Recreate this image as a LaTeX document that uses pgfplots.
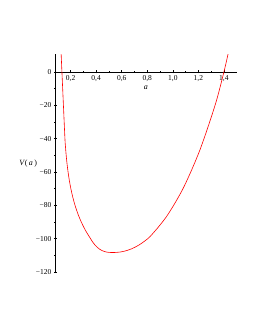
\documentclass[border=0pt]{standalone}
\usepackage{pgfplots}
\pgfplotsset{compat=1.18}
\usepackage{fontspec}
\setmainfont{Liberation Serif}
\begin{document}
\begin{tikzpicture}[x=1pt,y=1pt]
\useasboundingbox (0,0) rectangle (255,330);
\begin{axis}[
  at={(55.3pt,58pt)}, anchor=south west,
  scale only axis, width=181.4pt, height=217.7pt,
  xmin=0.08, xmax=1.5, ymin=-120, ymax=10.6,
  axis x line=middle, axis y line=left,
  axis line style={-, line width=0.6pt},
  xtick={0.2,0.4,0.6,0.8,1.0,1.2,1.4},
  xticklabels={{0,2},{0,4},{0,6},{0,8},{1,0},{1,2},{1,4}},
  ytick={-120,-100,-80,-60,-40,-20,0},
  yticklabels={−120,−100,−80,−60,−40,−20,0},
  minor x tick num=1, minor y tick num=1,
  tick style={black, line width=0.5pt},
  major tick length=3pt, minor tick length=2pt,
  tick label style={font=\fontsize{7.5}{8}\selectfont},
  xticklabel style={yshift=1pt},
  yticklabel style={xshift=1pt},
  xlabel={\textit{a}},
  xlabel style={at={(axis description cs:0.5,0.845)}, anchor=center, font=\fontsize{8}{9}\selectfont},
  ylabel={\textit{V}(\,\textit{a}\,)},
  ylabel style={at={(axis description cs:-0.15,0.5)}, anchor=center, rotate=-90, font=\fontsize{8}{9}\selectfont},
  clip=true,
]
\addplot[red, line width=0.6pt, smooth, tension=0.5] coordinates {
(0.1256,11) (0.1319,0) (0.1436,-20) (0.1554,-40) (0.1598,-45) (0.1652,-50)
(0.1718,-55) (0.1799,-60) (0.1897,-65) (0.2018,-70) (0.2165,-75) (0.2344,-80)
(0.2564,-85) (0.2833,-90) (0.3160,-95) (0.3558,-100)
(0.3736,-102.12) (0.3913,-103.86) (0.4091,-105.24) (0.4269,-106.31)
(0.4447,-107.11) (0.4624,-107.66) (0.4802,-108.01) (0.4980,-108.21)
(0.5157,-108.29) (0.5335,-108.3)
(0.5623,-108.22) (0.5910,-107.98) (0.6198,-107.54) (0.6485,-106.91)
(0.6773,-106.08) (0.7060,-105.05) (0.7348,-103.81) (0.7635,-102.35)
(0.7923,-100.69) (0.8210,-98.8)
(0.885,-93.2) (0.950,-86.8) (1.015,-78.9) (1.081,-69.8) (1.146,-59.0)
(1.212,-46.8) (1.277,-32.6) (1.343,-16.8) (1.40,0) (1.432,10.6) (1.436,12)
};
\end{axis}
\end{tikzpicture}
\end{document}
